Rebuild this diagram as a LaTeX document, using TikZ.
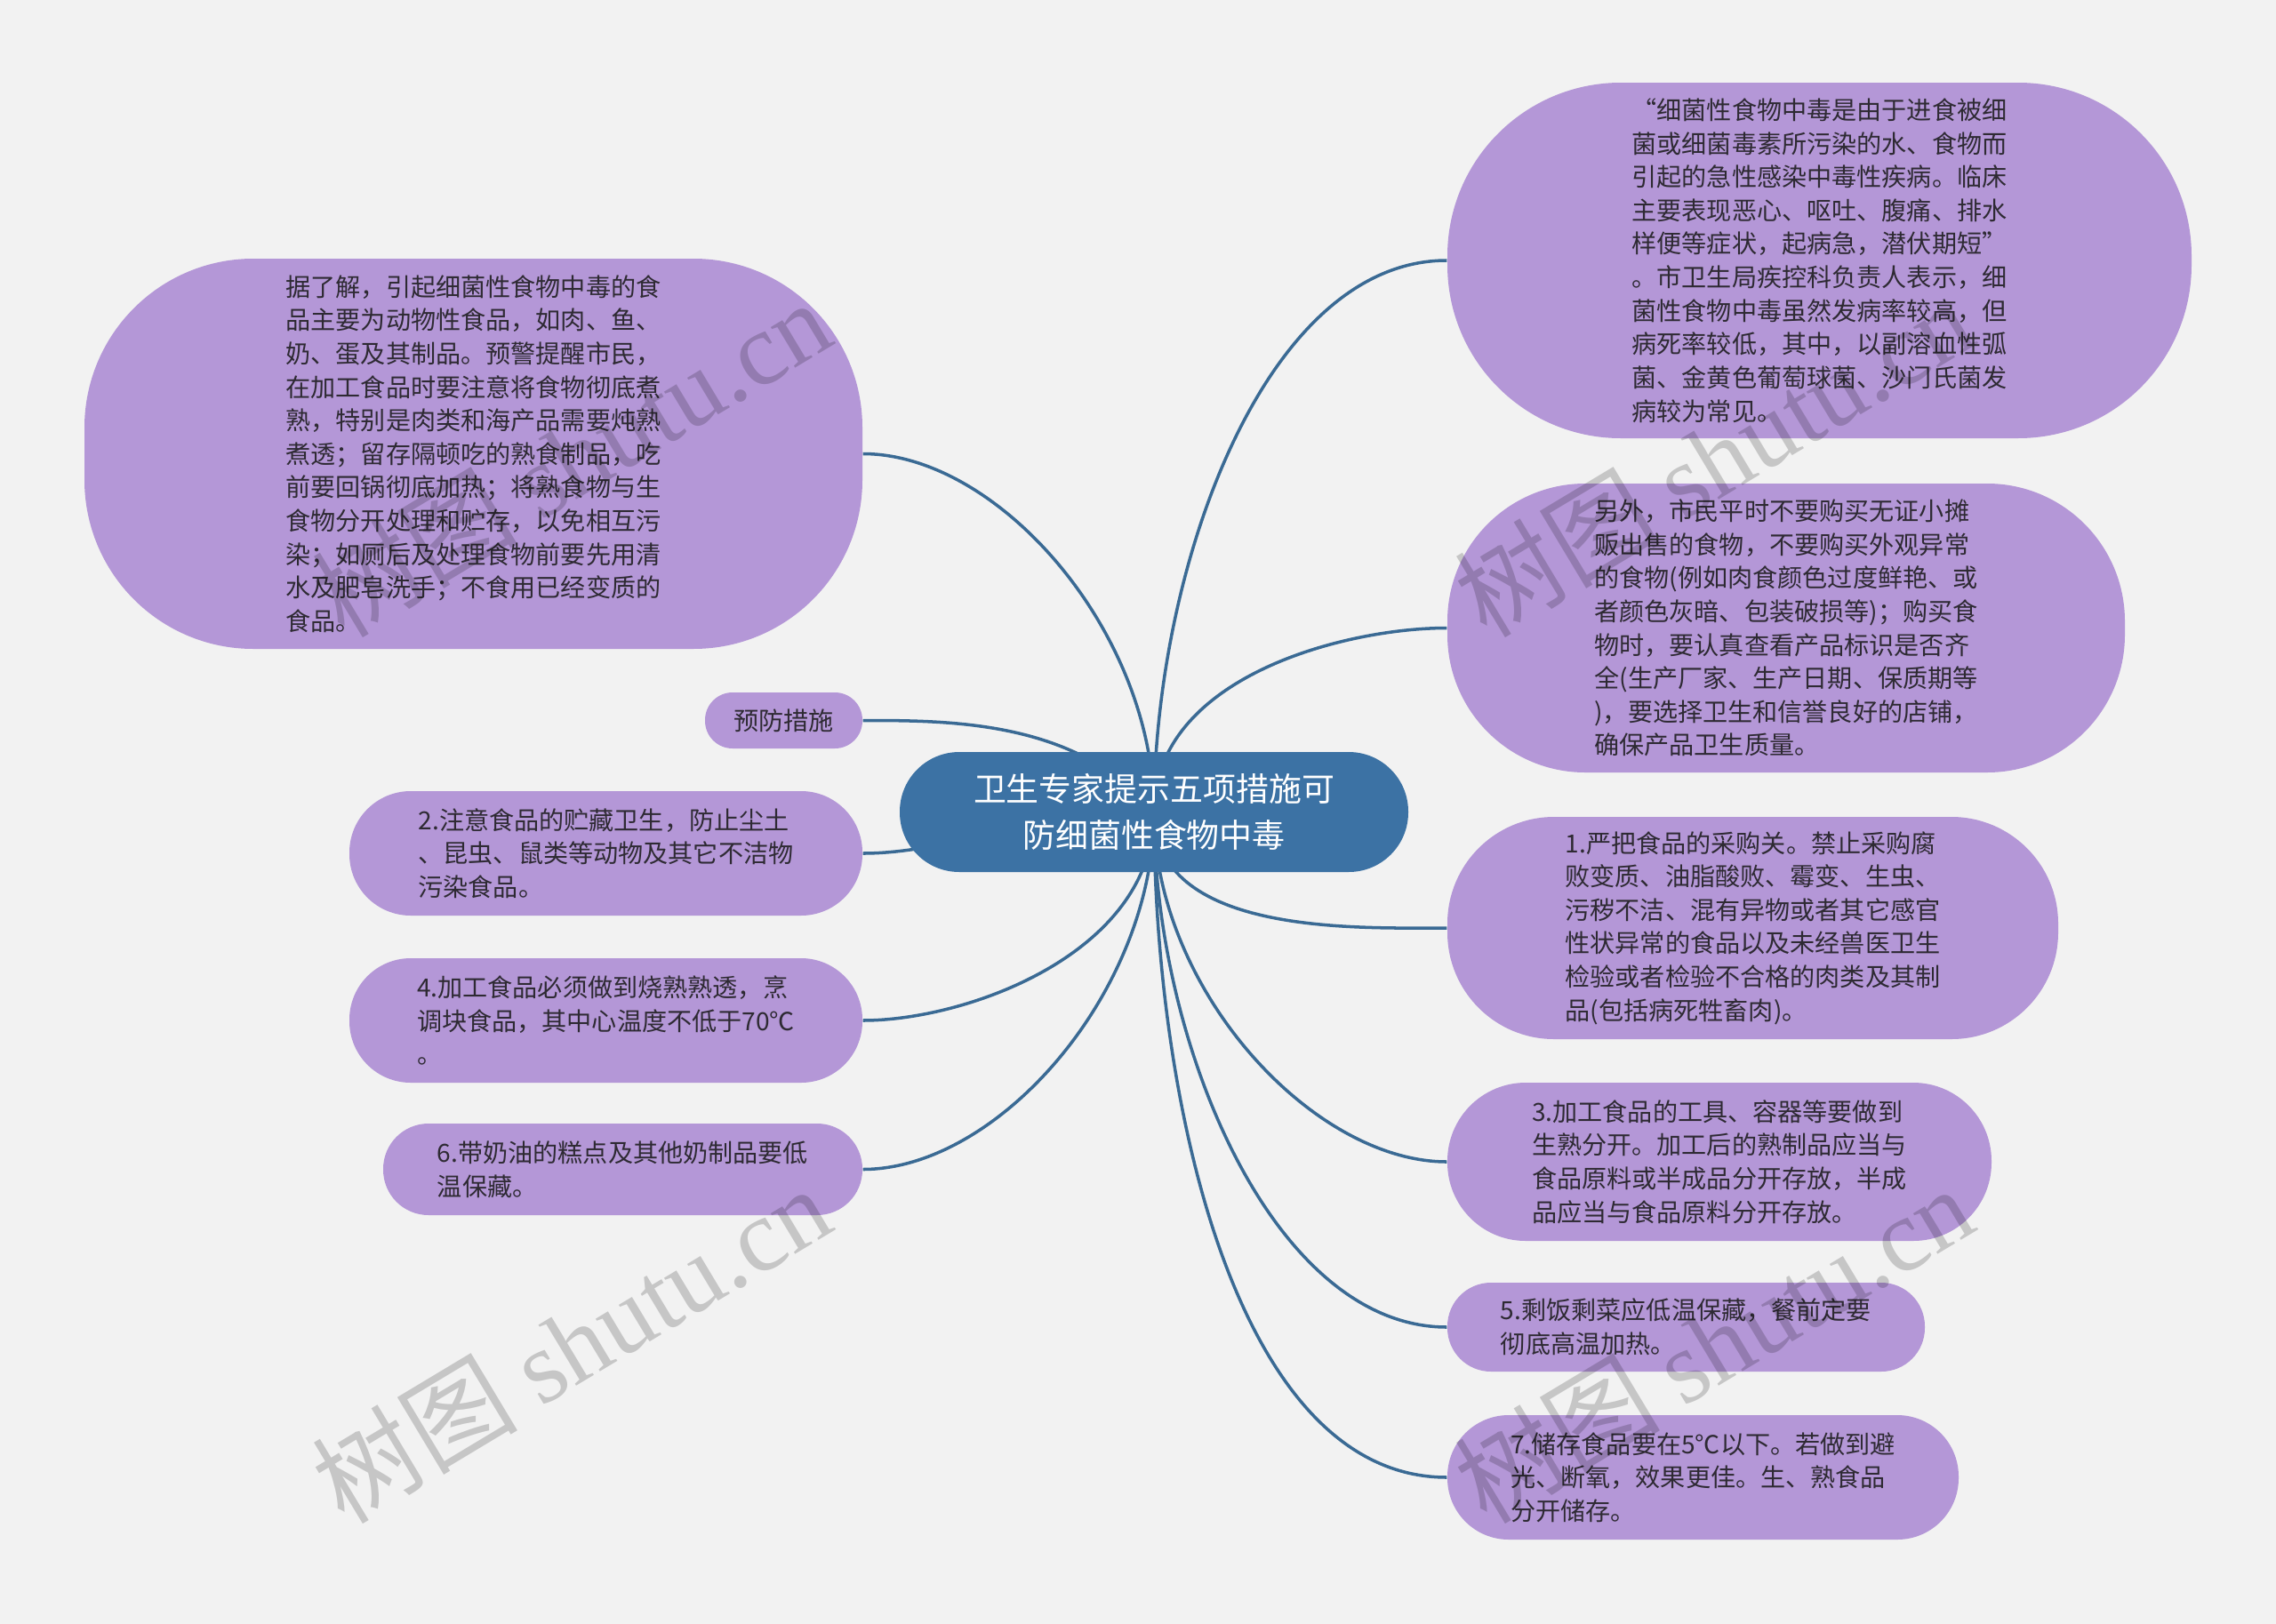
\documentclass[tikz,border=0pt]{standalone}
\usepackage{fontspec}
\setmainfont{Noto Sans CJK SC}
\newfontfamily\wmfont{Liberation Serif}
\definecolor{bgcol}{HTML}{F2F2F2}
\definecolor{leafcol}{HTML}{B497D7}
\definecolor{topiccol}{HTML}{3C72A4}
\definecolor{linecol}{HTML}{3A6A94}
\definecolor{txtcol}{HTML}{2E2A33}
\pgfdeclarelayer{back}
\pgfsetlayers{back,main}

\begin{document}
\begin{tikzpicture}[leaf/.style = {fill = leafcol, rounded corners = #1, align = left, text = txtcol, font = \fontsize{8}{10.7}\selectfont},
		topic/.style = {fill = topiccol, rounded corners = 0.67cm, align = center, text = white, font = \fontsize{10.5}{14.6}\selectfont},
		branch/.style = {draw = linecol, line width = 1pt, in looseness = 0.75},
		wm/.style = {rotate = 31, text = black, opacity = 0.18, font = \fontsize{33}{33}\selectfont}]
				\useasboundingbox (0,0) rectangle (25.6,-18.27);
				\node[topic, minimum width = 5.72cm, minimum height = 1.35cm] (T) at (12.98,-9.135) {卫生专家提示五项措施可\\防细菌性食物中毒};
				\node[leaf = 1.9cm, minimum width = 8.75cm, minimum height = 4.39cm] (A) at (5.325,-5.105) {据了解，引起细菌性食物中毒的食\\品主要为动物性食品，如肉、鱼、\\奶、蛋及其制品。预警提醒市民，\\在加工食品时要注意将食物彻底煮\\熟，特别是肉类和海产品需要炖熟\\煮透；留存隔顿吃的熟食制品，吃\\前要回锅彻底加热；将熟食物与生\\食物分开处理和贮存，以免相互污\\染；如厕后及处理食物前要先用清\\水及肥皂洗手；不食用已经变质的\\食品。};
				\node[leaf = 0.31cm, minimum width = 1.77cm, minimum height = 0.63cm] (B) at (8.815,-8.105) {预防措施};
				\node[leaf = 0.69cm, minimum width = 5.77cm, minimum height = 1.40cm] (C) at (6.815,-9.60) {2.注意食品的贮藏卫生，防止尘土\\、昆虫、鼠类等动物及其它不洁物\\污染食品。};
				\node[leaf = 0.69cm, minimum width = 5.77cm, minimum height = 1.40cm] (D) at (6.815,-11.48) {4.加工食品必须做到烧熟熟透，烹\\调块食品，其中心温度不低于70℃\\。};
				\node[leaf = 0.51cm, minimum width = 5.39cm, minimum height = 1.03cm] (E) at (7.005,-13.155) {6.带奶油的糕点及其他奶制品要低\\温保藏。};
				\node[leaf = 1.95cm, minimum width = 8.37cm, minimum height = 4.00cm] (F) at (20.465,-2.93) {“细菌性食物中毒是由于进食被细\\菌或细菌毒素所污染的水、食物而\\引起的急性感染中毒性疾病。临床\\主要表现恶心、呕吐、腹痛、排水\\样便等症状，起病急，潜伏期短”\\。市卫生局疾控科负责人表示，细\\菌性食物中毒虽然发病率较高，但\\病死率较低，其中，以副溶血性弧\\菌、金黄色葡萄球菌、沙门氏菌发\\病较为常见。};
				\node[leaf = 1.55cm, minimum width = 7.62cm, minimum height = 3.25cm] (G) at (20.09,-7.065) {另外，市民平时不要购买无证小摊\\贩出售的食物，不要购买外观异常\\的食物(例如肉食颜色过度鲜艳、或\\者颜色灰暗、包装破损等)；购买食\\物时，要认真查看产品标识是否齐\\全(生产厂家、生产日期、保质期等\\)，要选择卫生和信誉良好的店铺，\\确保产品卫生质量。};
				\node[leaf = 1.2cm, minimum width = 6.87cm, minimum height = 2.50cm] (H) at (19.715,-10.44) {1.严把食品的采购关。禁止采购腐\\败变质、油脂酸败、霉变、生虫、\\污秽不洁、混有异物或者其它感官\\性状异常的食品以及未经兽医卫生\\检验或者检验不合格的肉类及其制\\品(包括病死牲畜肉)。};
				\node[leaf = 0.88cm, minimum width = 6.12cm, minimum height = 1.78cm] (I) at (19.34,-13.07) {3.加工食品的工具、容器等要做到\\生熟分开。加工后的熟制品应当与\\食品原料或半成品分开存放，半成\\品应当与食品原料分开存放。};
				\node[leaf = 0.49cm, minimum width = 5.37cm, minimum height = 1.00cm] (J) at (18.965,-14.93) {5.剩饭剩菜应低温保藏，餐前定要\\彻底高温加热。};
				\node[leaf = 0.69cm, minimum width = 5.75cm, minimum height = 1.40cm] (K) at (19.155,-16.62) {7.储存食品要在5℃以下。若做到避\\光、断氧，效果更佳。生、熟食品\\分开储存。};
				\begin{pgfonlayer}{back}
				\fill[bgcol] (0,0) rectangle (25.6,-18.27);
				\draw[branch] (T.center) to[out=90, in=0] (A.east);
				\draw[branch] (T.center) to[out=130, in=0] (B.east);
				\draw[branch] (T.center) to[out=180, in=0] (C.east);
				\draw[branch] (T.center) to[out=-90, in=0] (D.east);
				\draw[branch] (T.center) to[out=-90, in=0] (E.east);
				\draw[branch] (T.center) to[out=90, in=180] (F.west);
				\draw[branch] (T.center) to[out=90, in=180] (G.west);
				\draw[branch] (T.center) to[out=-90, in=180] (H.west);
				\draw[branch] (T.center) to[out=-90, in=180] (I.west);
				\draw[branch] (T.center) to[out=-90, in=180] (J.west);
				\draw[branch] (T.center) to[out=-90, in=180] (K.west);
				\end{pgfonlayer}
				\node[wm] (W1) at (6.42,-5.15) {树图 {\wmfont shutu.cn}};
				\node[wm] (W2) at (6.42,-15.12) {树图 {\wmfont shutu.cn}};
				\node[wm] (W3) at (19.27,-5.15) {树图 {\wmfont shutu.cn}};
				\node[wm] (W4) at (19.27,-15.12) {树图 {\wmfont shutu.cn}};
			\end{tikzpicture}
\end{document}
